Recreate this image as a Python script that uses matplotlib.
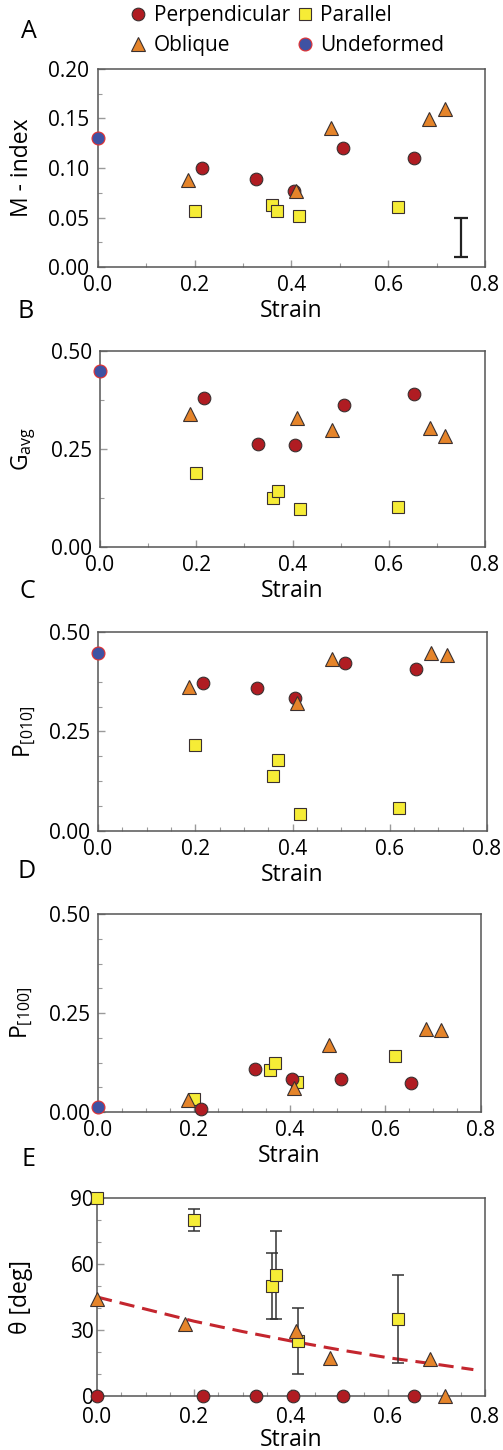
import matplotlib
matplotlib.use('Agg')
import matplotlib.pyplot as plt
from matplotlib.lines import Line2D
from matplotlib.ticker import MultipleLocator, FormatStrFormatter

plt.rcParams['font.family'] = ['Open Sans', 'DejaVu Sans']
plt.rcParams['mathtext.fontset'] = 'custom'
plt.rcParams['mathtext.rm'] = 'Open Sans'

# strain values of the samples (same for panels A-D)
perp_x = [0.216, 0.328, 0.405, 0.507, 0.653]
obl_x = [0.187, 0.410, 0.482, 0.685, 0.717]
par_x = [0.200, 0.360, 0.370, 0.416, 0.620]
undef_x = [0.0]

# A: M-index
perp_m = [0.100, 0.089, 0.077, 0.120, 0.110]
obl_m = [0.088, 0.077, 0.140, 0.150, 0.160]
par_m = [0.057, 0.063, 0.057, 0.052, 0.061]
undef_m = [0.130]

# B: G_avg
perp_g = [0.379, 0.264, 0.261, 0.362, 0.391]
obl_g = [0.339, 0.329, 0.299, 0.303, 0.284]
par_g = [0.188, 0.126, 0.143, 0.096, 0.101]
undef_g = [0.450]

# C: P[010]
perp_p010 = [0.372, 0.360, 0.335, 0.423, 0.408]
obl_p010 = [0.362, 0.322, 0.433, 0.446, 0.441]
par_p010 = [0.217, 0.138, 0.178, 0.043, 0.059]
undef_p010 = [0.448]

# D: P[100]
perp_p100 = [0.008, 0.108, 0.083, 0.083, 0.073]
obl_p100 = [0.031, 0.061, 0.170, 0.209, 0.208]
par_p100 = [0.033, 0.107, 0.125, 0.076, 0.142]
undef_p100 = [0.012]

# E: theta
perp_tx = [0.0, 0.218, 0.328, 0.404, 0.508, 0.653]
perp_t = [0, 0, 0, 0, 0, 0]
obl_tx = [0.0, 0.182, 0.410, 0.480, 0.686, 0.717]
obl_t = [44, 32.7, 29.5, 17.5, 16.6, 0]
par_tx = [0.0, 0.200, 0.360, 0.370, 0.415, 0.620]
par_t = [90, 80, 50, 55, 25, 35]
par_lo = [0, 5, 15, 20, 15, 20]
par_hi = [0, 5, 15, 20, 15, 20]
curve_x = [0.0, 0.1, 0.2, 0.3, 0.4, 0.5, 0.6, 0.7, 0.776]
curve_t = [45, 39.5, 34, 29.3, 25, 21, 17.4, 14.4, 12]

C_PERP = '#b01c22'
C_OBL = '#e5842a'
C_PAR = '#f6ec36'
C_UND = '#3f52a3'
EDGE = '#3a3030'

W = 503
H = 1450
fig = plt.figure(figsize=(W / 100, H / 100), dpi=100)


def px_axes(left, top, right, bottom):
    return fig.add_axes([left / W, 1 - bottom / H, (right - left) / W, (bottom - top) / H])


def style(ax, ylim, ymaj, ymin, xmin, ylabel, letter, lx, ly, labx,
          ypad=6, xpad=6, fmt='%.2f'):
    ax.set_xlim(0, 0.8)
    ax.set_ylim(*ylim)
    ax.xaxis.set_major_locator(MultipleLocator(0.2))
    ax.xaxis.set_minor_locator(MultipleLocator(xmin))
    ax.xaxis.set_major_formatter(FormatStrFormatter('%.1f'))
    ax.yaxis.set_major_locator(MultipleLocator(ymaj))
    ax.yaxis.set_minor_locator(MultipleLocator(ymin))
    ax.yaxis.set_major_formatter(FormatStrFormatter(fmt))
    ax.tick_params(which='both', direction='in', color='#9a9a9a', labelsize=15)
    ax.tick_params(which='major', length=5, width=1)
    ax.tick_params(which='minor', length=3, width=0.8)
    ax.tick_params(axis='x', pad=xpad)
    ax.tick_params(axis='y', pad=ypad)
    for s in ax.spines.values():
        s.set_color('#555555')
        s.set_linewidth(1.1)
    ax.set_xlabel('Strain', fontsize=16.5, labelpad=2)
    ax.set_ylabel(ylabel, fontsize=16.5)
    ax.yaxis.set_label_coords(labx, 0.5)
    fig.text(lx / W, 1 - ly / H, letter, fontsize=18, ha='center', va='center')


def points(ax, x, y, marker, color, size, edge=EDGE, z=3):
    ax.plot(x, y, linestyle='none', marker=marker, markersize=size,
            markerfacecolor=color, markeredgecolor=edge, markeredgewidth=0.8,
            clip_on=False, zorder=z)


def panel(ax, pm, om, qm, um):
    points(ax, par_x, qm, 's', C_PAR, 8.6)
    points(ax, perp_x, pm, 'o', C_PERP, 9.1)
    points(ax, obl_x, om, '^', C_OBL, 9.6)
    points(ax, undef_x, um, 'o', C_UND, 9.3, edge='#e53030', z=4)


# A
axA = px_axes(97.7, 69, 485, 267)
panel(axA, perp_m, obl_m, par_m, undef_m)
axA.errorbar([0.75], [0.03], yerr=[0.02], fmt='none', ecolor='#222222',
             elinewidth=1.6, capsize=5, capthick=1.6)
style(axA, (0, 0.2), 0.05, 0.025, 0.1, 'M - index', 'A', 29, 32, -0.165)

# B
axB = px_axes(100, 351, 485, 547)
panel(axB, perp_g, obl_g, par_g, undef_g)
style(axB, (0, 0.5), 0.25, 0.125, 0.1, r'G$_\mathregular{avg}$', 'B', 26, 312, -0.16)

# C
axC = px_axes(98, 632, 487, 831)
panel(axC, perp_p010, obl_p010, par_p010, undef_p010)
style(axC, (0, 0.5), 0.25, 0.0625, 0.05, r'P$_\mathregular{[010]}$', 'C', 27, 592, -0.155)

# D
axD = px_axes(98, 914, 481, 1112)
panel(axD, perp_p100, obl_p100, par_p100, undef_p100)
style(axD, (0, 0.5), 0.25, 0.0625, 0.05, r'P$_\mathregular{[100]}$', 'D', 27, 872, -0.165)

# E
axE = px_axes(97, 1198, 485, 1396)
axE.plot(curve_x, curve_t, color='#c4262e', linewidth=2.2, dashes=(5, 2.6), zorder=2)
axE.errorbar(par_tx, par_t, yerr=[par_lo, par_hi], fmt='none', ecolor='#333333',
             elinewidth=1.1, capsize=4, capthick=1.1, zorder=2)
points(axE, par_tx, par_t, 's', C_PAR, 8.6)
points(axE, perp_tx, perp_t, 'o', C_PERP, 9.1)
points(axE, obl_tx, obl_t, '^', C_OBL, 9.6)
style(axE, (0, 90), 30, 10, 0.05, 'θ [deg]', 'E', 29, 1159, -0.165,
      ypad=2, xpad=8, fmt='%d')
axE.xaxis.labelpad = 0

# legend
handles = [
    Line2D([], [], linestyle='none', marker='o', markersize=9.1, markerfacecolor=C_PERP,
           markeredgecolor=EDGE, markeredgewidth=0.8, label='Perpendicular'),
    Line2D([], [], linestyle='none', marker='^', markersize=9.6, markerfacecolor=C_OBL,
           markeredgecolor=EDGE, markeredgewidth=0.8, label='Oblique'),
    Line2D([], [], linestyle='none', marker='s', markersize=8.6, markerfacecolor=C_PAR,
           markeredgecolor=EDGE, markeredgewidth=0.8, label='Parallel'),
    Line2D([], [], linestyle='none', marker='o', markersize=9.3, markerfacecolor=C_UND,
           markeredgecolor='#e53030', markeredgewidth=0.8, label='Undeformed'),
]
fig.legend(handles=handles, ncol=2, loc='upper left', bbox_to_anchor=(130 / W, 1 - 5 / H),
           frameon=False, fontsize=15, handlelength=0.8, handletextpad=0.35,
           columnspacing=0.3, labelspacing=0.45, borderpad=0, borderaxespad=0)

fig.savefig('out.png', dpi=100)
